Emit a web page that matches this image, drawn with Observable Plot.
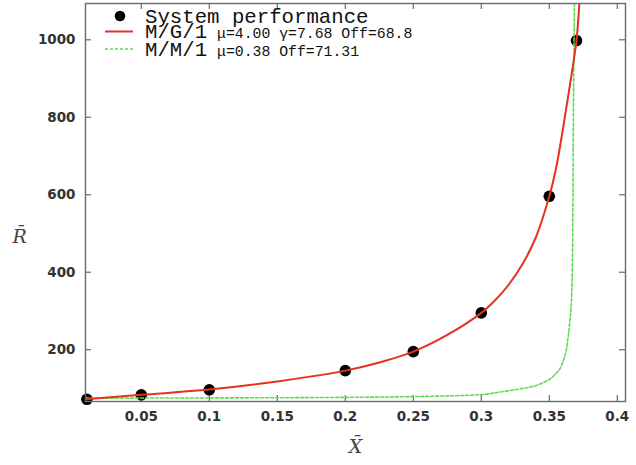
<!DOCTYPE html>
<html><head><meta charset="utf-8">
<script src="https://cdn.jsdelivr.net/npm/d3@7"></script>
<script src="https://cdn.jsdelivr.net/npm/@observablehq/plot@0.6"></script>
<style>body{margin:0;background:#fff} #chart svg{display:block;overflow:visible}</style>
</head><body><div id="chart"></div>
<script>
// System performance measurements
const sysX = [0.01, 0.05, 0.1, 0.2, 0.25, 0.3, 0.35, 0.37];
const sysR = [72, 83.5, 96.5, 146, 195, 295, 596, 998];
// M/G/1 fitted curve
const mg1X = [0.009, 0.05, 0.1, 0.15, 0.2, 0.225, 0.25, 0.275, 0.3, 0.31, 0.32, 0.33, 0.34, 0.35, 0.355, 0.36, 0.365, 0.37, 0.3722];
const mg1R = [72, 83.5, 97, 118, 146, 167, 195, 238, 295, 327, 367, 419, 489, 596, 669, 769, 879, 999, 1100];
// M/M/1 fitted curve
const mm1X = [0.009, 0.1, 0.2, 0.25, 0.3, 0.3141, 0.3288, 0.3435, 0.3533, 0.3595, 0.3632, 0.3651, 0.3663, 0.3671, 0.3678, 0.3685];
const mm1R = [75, 75.5, 77, 79, 84, 91, 99, 112, 133, 164, 215, 275, 327, 456, 845, 1100];
// Axes
const xTicks = [0.05, 0.1, 0.15, 0.2, 0.25, 0.3, 0.35, 0.4];
const xTickLabels = ["0.05", "0.1", "0.15", "0.2", "0.25", "0.3", "0.35", "0.4"];
const yTicks = [200, 400, 600, 800, 1000];
const yTickLabels = ["200", "400", "600", "800", "1000"];
const xLabel = "X\u0304";
const yLabel = "R\u0304";
// Legend
const legendNames = ["System performance", "M/G/1", "M/M/1"];
const legendParams = ["", "\u03bc=4.00 \u03b3=7.68 Off=68.8", "\u03bc=0.38 Off=71.31"];

const W = 636, H = 465, mL = 85, mR = 11, mT = 3, mB = 64;
const innerW = W - mL - mR, innerH = H - mT - mB;
const RED = "#e5321c", GREEN = "#5fdc50", FRAME = "#6a6a6a";

const sys = sysX.map((x, i) => ({x, y: sysR[i]}));
const mg1 = mg1X.map((x, i) => ({x, y: mg1R[i]}));
const mm1 = mm1X.map((x, i) => ({x, y: mm1R[i]}));

const chart = Plot.plot({
  width: W, height: H,
  marginLeft: mL, marginRight: mR, marginTop: mT, marginBottom: mB,
  x: {domain: [0.00897, 0.40603], axis: null},
  y: {domain: [66.3, 1093.7], axis: null},
  style: {fontFamily: "DejaVu Sans", background: "#fff"},
  marks: [
    Plot.axisX({ticks: xTicks, tickSize: 0, tickPadding: 10, label: null,
      tickFormat: d => xTickLabels[xTicks.indexOf(d)],
      fontSize: 13.5, fontWeight: "bold", fill: "#333"}),
    Plot.axisY({ticks: yTicks, tickSize: 0, tickPadding: 10, label: null,
      tickFormat: d => yTickLabels[yTicks.indexOf(d)],
      fontSize: 13.5, fontWeight: "bold", fill: "#333"}),
    Plot.tickX(xTicks, {x: d => d, insetTop: innerH - 6, stroke: FRAME, strokeWidth: 1.2}),
    Plot.tickX(xTicks, {x: d => d, insetBottom: innerH - 6, stroke: FRAME, strokeWidth: 1.2}),
    Plot.tickY(yTicks, {y: d => d, insetRight: innerW - 6, stroke: FRAME, strokeWidth: 1.2}),
    Plot.tickY(yTicks, {y: d => d, insetLeft: innerW - 6, stroke: FRAME, strokeWidth: 1.2}),
    Plot.dot(sys, {x: "x", y: "y", r: 5.8, fill: "#000", stroke: "none"}),
    Plot.line(mm1, {x: "x", y: "y", stroke: GREEN, strokeWidth: 1.6, strokeDasharray: "3,2", curve: "monotone-x", clip: true}),
    Plot.line(mg1, {x: "x", y: "y", stroke: RED, strokeWidth: 2, curve: "catmull-rom", clip: true}),
    Plot.frame({stroke: FRAME, strokeWidth: 1.4}),
    Plot.text([xLabel], {text: d => d, frameAnchor: "bottom", dy: 51, fontFamily: "DejaVu Serif", fontStyle: "italic", fontSize: 19, fill: "#444"}),
    Plot.text([yLabel], {text: d => d, frameAnchor: "left", dx: -73, dy: 34, fontFamily: "DejaVu Serif", fontStyle: "italic", fontSize: 19, fill: "#444"})
  ]
});
document.getElementById("chart").appendChild(chart);

// Legend (inside the frame, top-left)
const svg = d3.select(chart);
const lg = svg.append("g").attr("transform", `translate(${mL},${mT})`).attr("text-anchor", "start");
const rows = [13, 28.5, 46];
lg.append("circle").attr("cx", 35).attr("cy", rows[0]).attr("r", 5.3).attr("fill", "#000");
lg.append("line").attr("x1", 20).attr("x2", 48).attr("y1", rows[1]).attr("y2", rows[1])
  .attr("stroke", RED).attr("stroke-width", 2);
lg.append("line").attr("x1", 20).attr("x2", 48).attr("y1", rows[2]).attr("y2", rows[2])
  .attr("stroke", GREEN).attr("stroke-width", 1.6).attr("stroke-dasharray", "3,2");
legendNames.forEach((name, i) => {
  lg.append("text").attr("x", 60).attr("y", rows[i] + 6.5).attr("text-anchor", "start")
    .attr("font-family", "Liberation Mono").attr("font-size", 20.7).attr("fill", "#111")
    .text(name);
  if (legendParams[i]) {
    lg.append("text").attr("x", 132).attr("y", rows[i] + 6.5).attr("text-anchor", "start")
      .attr("font-family", "Liberation Mono").attr("font-size", 14.8).attr("fill", "#111")
      .text(legendParams[i]);
  }
});
</script>
</body></html>
